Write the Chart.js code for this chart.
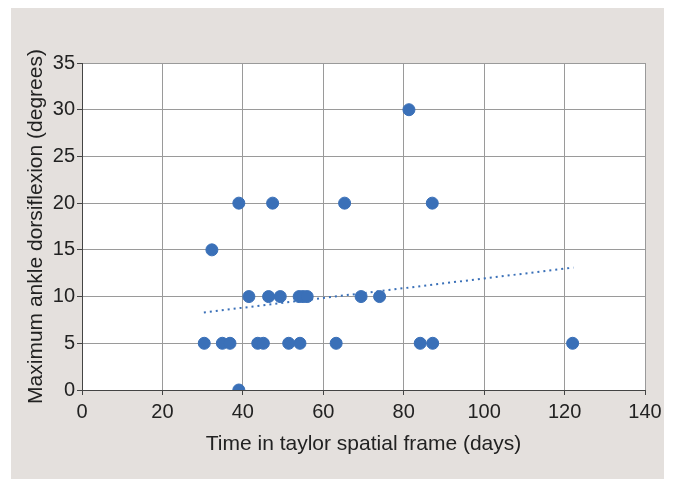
<!DOCTYPE html>
<html>
<head>
<meta charset="utf-8">
<script src="https://cdn.jsdelivr.net/npm/chart.js@4"></script>
<style>
  body { margin: 0; background: #fff; }
  #panel { position: absolute; left: 11px; top: 8px; width: 653px; height: 471px; background: #e4e0dd; }
  #chart { position: absolute; left: 0; top: 0; }
</style>
</head>
<body>
<div id="panel"></div>
<canvas id="chart" width="673" height="483"></canvas>
<script>
// days in frame vs max dorsiflexion
const days = [32.3, 41.5, 46.4, 49.3, 54, 55, 56, 69.4, 74,
  30.4, 34.9, 36.8, 43.7, 45.1, 51.4, 54.2, 63.2, 84.1, 87.2, 122,
  39, 47.4, 65.3, 87.1, 81.3, 39];
const degrees = [15, 10, 10, 10, 10, 10, 10, 10, 10,
  5, 5, 5, 5, 5, 5, 5, 5, 5, 5, 5,
  20, 20, 20, 20, 30, 0];

// dotted trend line ends
const trendX = [30.3, 122.2];
const trendY = [8.3, 13.1];

const blue = '#3a70b8';
const tickFont = { family: 'Liberation Sans, Arial, sans-serif', size: 20 };
const titleFont = { family: 'Liberation Sans, Arial, sans-serif', size: 21 };

// white fill behind the plot area
const plotBg = {
  id: 'plotBg',
  beforeDraw(chart) {
    const a = chart.chartArea;
    const c = chart.ctx;
    c.save();
    c.fillStyle = '#fff';
    c.fillRect(a.left, a.top, a.right - a.left, a.bottom - a.top);
    c.restore();
  }
};

const ctx = document.getElementById('chart').getContext('2d');
new Chart(ctx, {
  type: 'scatter',
  data: {
    datasets: [{
      data: days.map((d, i) => ({ x: d, y: degrees[i] })),
      backgroundColor: blue,
      borderColor: blue,
      pointRadius: 6,
      pointHoverRadius: 6,
      order: 1
    }, {
      type: 'line',
      data: trendX.map((d, i) => ({ x: d, y: trendY[i] })),
      borderColor: blue,
      borderWidth: 2,
      borderDash: [2, 4],
      pointRadius: 0,
      fill: false,
      order: 2
    }]
  },
  options: {
    responsive: false,
    animation: false,
    devicePixelRatio: 1,
    layout: { padding: { top: 63, right: 28, left: 0, bottom: 0 } },
    plugins: { legend: { display: false }, tooltip: { enabled: false } },
    scales: {
      x: {
        type: 'linear',
        min: 0, max: 140,
        afterFit: s => { s.height = 93; },
        ticks: { stepSize: 20, font: tickFont, color: '#222', padding: 5 },
        grid: { color: '#9a9a9a', tickLength: 5, tickColor: '#444' },
        border: { color: '#444', width: 1 },
        title: {
          display: true,
          text: 'Time in taylor spatial frame (days)',
          font: titleFont, color: '#222',
          padding: { top: 0, bottom: 26 }
        }
      },
      y: {
        min: 0, max: 35,
        afterFit: s => { s.width = 82; },
        ticks: { stepSize: 5, font: tickFont, color: '#222', padding: 2 },
        grid: { color: '#9a9a9a', tickLength: 5, tickColor: '#444' },
        border: { color: '#444', width: 1 },
        title: {
          display: true,
          text: 'Maximum ankle dorsiflexion (degrees)',
          font: titleFont, color: '#222',
          padding: { top: 24, bottom: 0 }
        }
      }
    }
  },
  plugins: [plotBg]
});
</script>
</body>
</html>
